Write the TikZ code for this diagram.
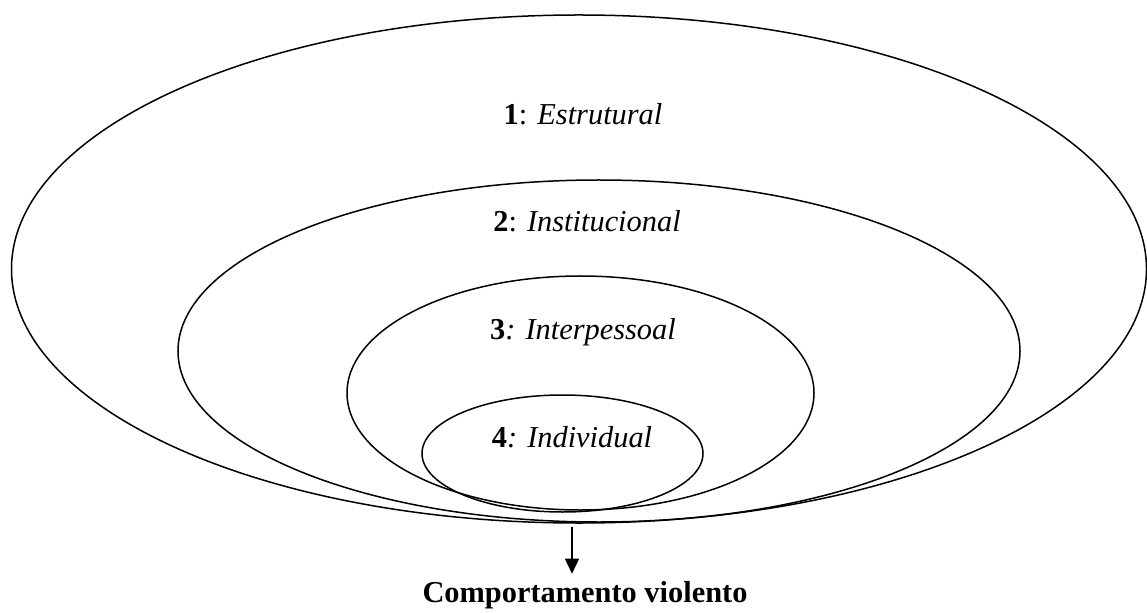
\documentclass[tikz,border=0pt]{standalone}
\usepackage{fontspec}
\setmainfont{Liberation Serif}
\usetikzlibrary{shapes.geometric,arrows.meta}
\begin{document}
\begin{tikzpicture}[x=1bp,y=-1bp,
  ring/.style={draw,line width=1.5bp,ellipse,inner sep=0pt},
  lbl/.style={font=\fontsize{30.5}{34}\selectfont,anchor=base,inner sep=0pt},
  result/.style={font=\fontsize{30.5}{34}\selectfont\bfseries,anchor=base,inner xsep=0pt,inner ysep=7bp},
  arr/.style={line width=1.5bp,-{Triangle[length=15bp,width=14bp]}}]
\useasboundingbox (0,0) rectangle (1147,613);
\node[ring,minimum width=1135bp,minimum height=508bp] (e1) at (579,269) {};
\node[ring,minimum width=842bp,minimum height=342bp] (e2) at (599,351) {};
\node[ring,minimum width=467bp,minimum height=234bp] (e3) at (580.5,393) {};
\node[ring,minimum width=281bp,minimum height=117bp] (e4) at (562.5,453.5) {};
\node[lbl] (t1) at (583,125) {\textbf{1}: \textit{Estrutural}};
\node[lbl] (t2) at (587,232) {\textbf{2}: \textit{Institucional}};
\node[lbl] (t3) at (583,340) {\textbf{3}\textit{: Interpessoal}};
\node[lbl] (t4) at (572,447) {\textbf{4}\textit{: Individual}};
\node[result] (cv) at (585,602) {Comportamento violento};
\coordinate (s) at (572,527);
\draw[arr] (s) -- (s |- cv.north);
\end{tikzpicture}
\end{document}
